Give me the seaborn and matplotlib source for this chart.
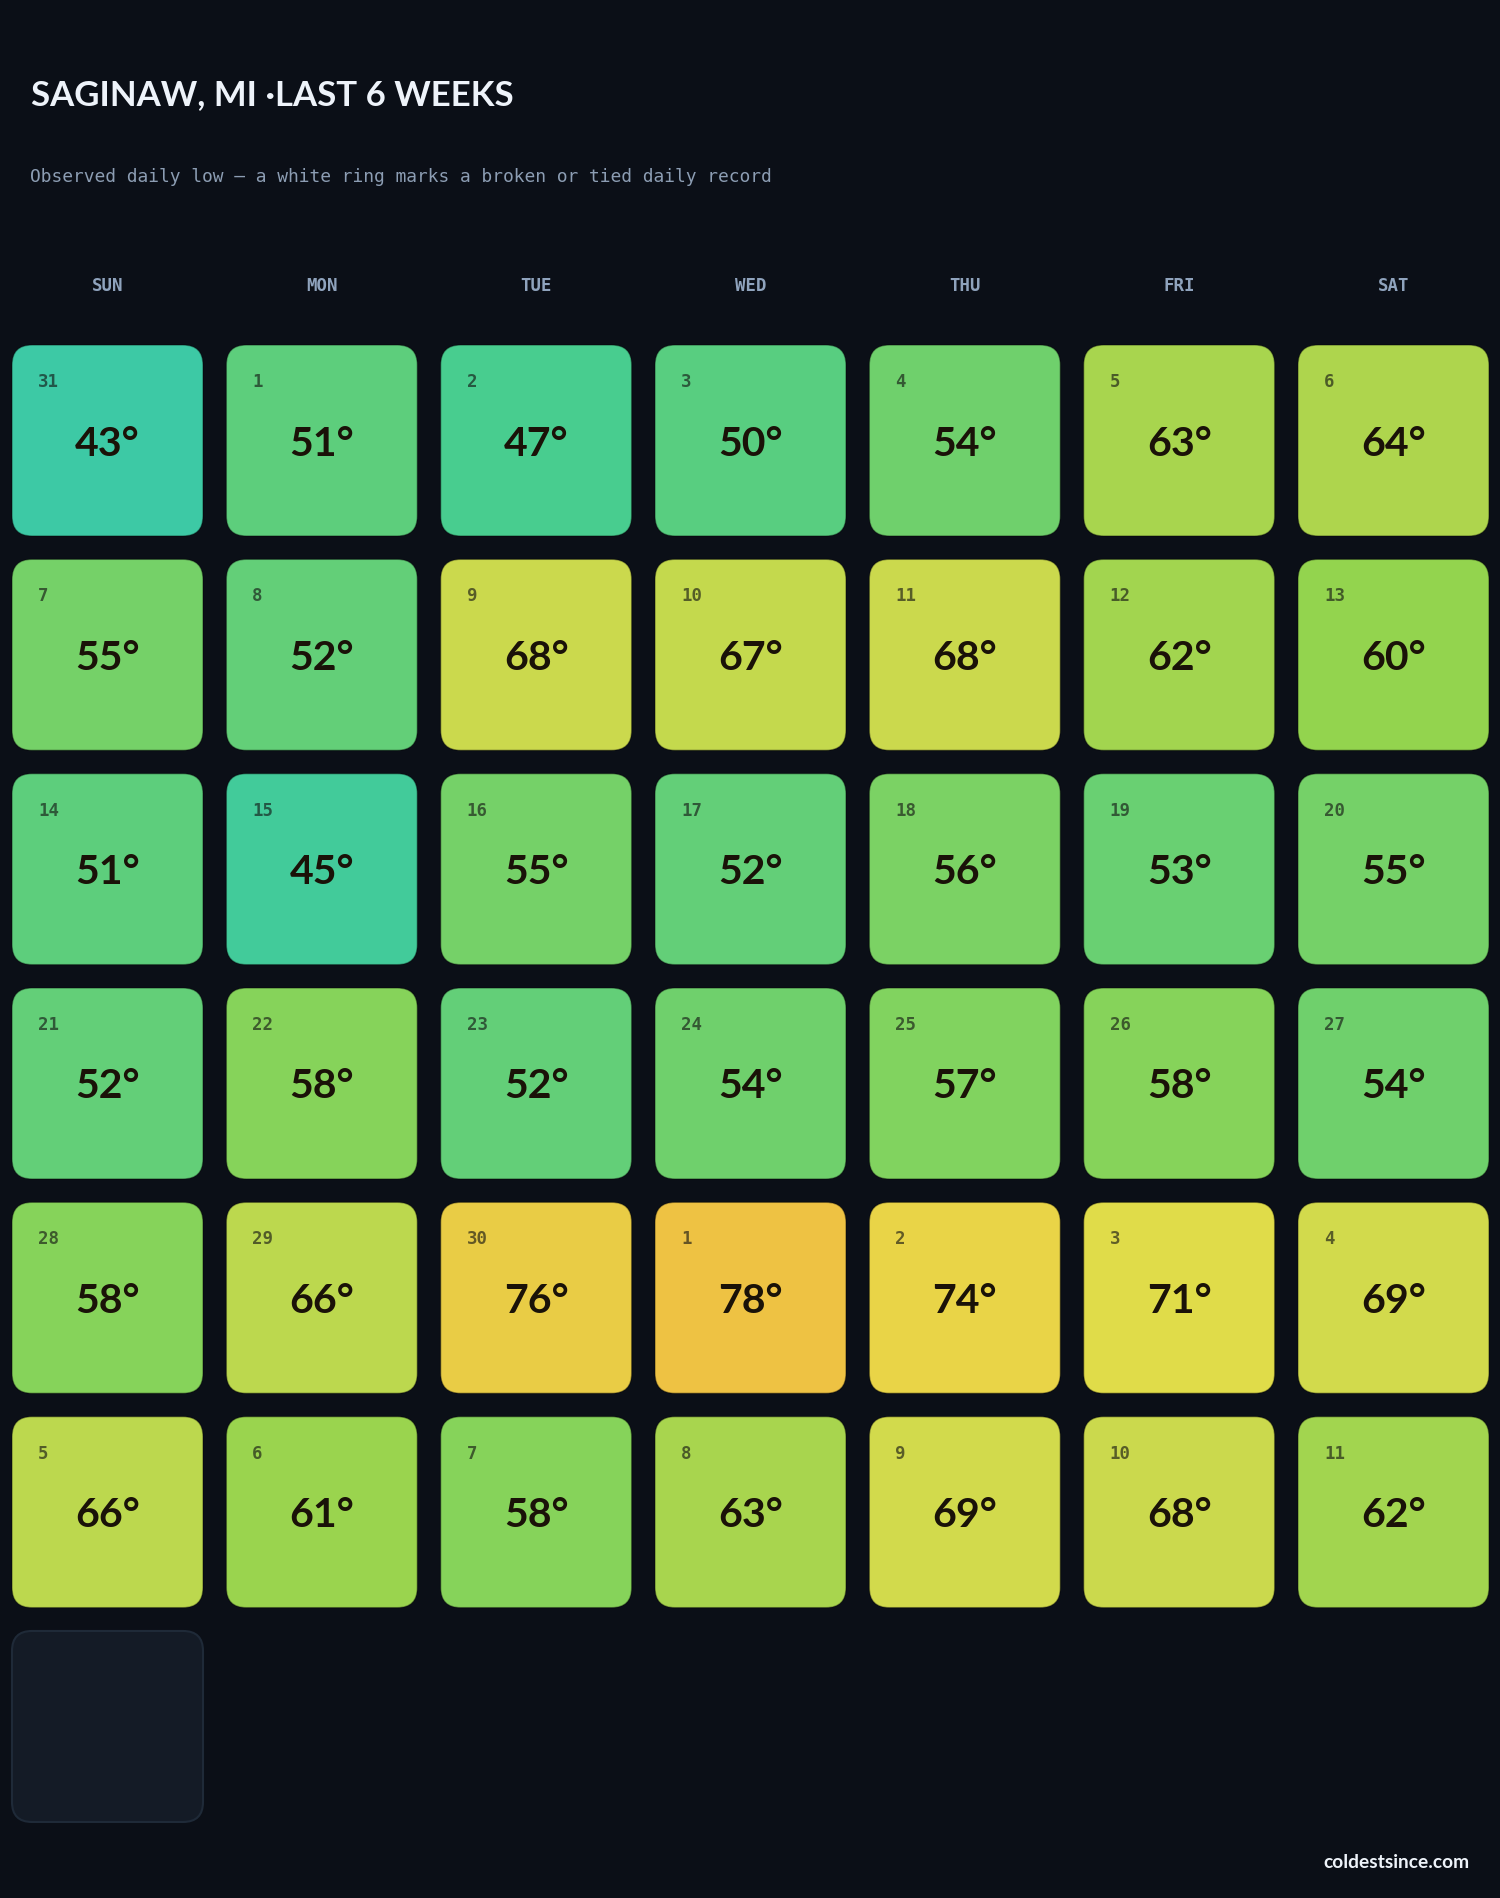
import numpy as np
import pandas as pd
import seaborn as sns
import matplotlib
matplotlib.use("Agg")
import matplotlib.pyplot as plt
from matplotlib.patches import FancyBboxPatch
from matplotlib.colors import LinearSegmentedColormap, Normalize

# ---------------- data ----------------
title = "SAGINAW, MI \u00b7LAST 6 WEEKS"
subtitle = "Observed daily low \u2014 a white ring marks a broken or tied daily record"
weekdays = ["SUN", "MON", "TUE", "WED", "THU", "FRI", "SAT"]
day_numbers = [31, 1, 2, 3, 4, 5, 6,
               7, 8, 9, 10, 11, 12, 13,
               14, 15, 16, 17, 18, 19, 20,
               21, 22, 23, 24, 25, 26, 27,
               28, 29, 30, 1, 2, 3, 4,
               5, 6, 7, 8, 9, 10, 11]
lows = [43, 51, 47, 50, 54, 63, 64,
        55, 52, 68, 67, 68, 62, 60,
        51, 45, 55, 52, 56, 53, 55,
        52, 58, 52, 54, 57, 58, 54,
        58, 66, 76, 78, 74, 71, 69,
        66, 61, 58, 63, 69, 68, 62]
record = [False] * len(lows)
n_empty_cells = 1
footer = "coldestsince.com"

df = pd.DataFrame({"day": day_numbers, "low": lows, "record": record})
df["row"] = np.arange(len(df)) // 7
df["col"] = np.arange(len(df)) % 7

# ---------------- style ----------------
BG = "#0b0f17"
sns.set_theme(style="dark", rc={"figure.facecolor": BG, "axes.facecolor": BG})
plt.rcParams["font.family"] = ["Lato", "DejaVu Sans"]

anchors = [(43, "#3dc9a5"), (47, "#48cd8f"), (50, "#58ce80"), (52, "#63cf78"),
           (54, "#6fd06c"), (56, "#7bd264"), (58, "#86d35a"), (60, "#93d44e"),
           (62, "#a2d54f"), (64, "#aed54d"), (66, "#bcd84e"), (68, "#cbd94d"),
           (70, "#d8da4b"), (71, "#e0dc49"), (74, "#e9d447"), (76, "#e9cc45"),
           (78, "#eec243")]
vmin, vmax = anchors[0][0], anchors[-1][0]
cmap = LinearSegmentedColormap.from_list(
    "lows", [((t - vmin) / (vmax - vmin), c) for t, c in anchors])
norm = Normalize(vmin=vmin, vmax=vmax)

W, H = 1500, 1899
fig = plt.figure(figsize=(W / 100, H / 100), dpi=100)
ax = fig.add_axes([0, 0, 1, 1])
ax.set_xlim(0, W)
ax.set_ylim(H, 0)
ax.axis("off")

x0, y0, pitch, size = 12, 346, 214.33, 191
rad = 20

fig.text(31 / W, 1 - 95 / H, title, color="#eef3fa", fontsize=25,
         fontweight="bold", ha="left", va="center", family=["Lato", "DejaVu Sans"])
fig.text(30 / W, 1 - 177 / H, subtitle, color="#8c9db3", fontsize=12.85,
         ha="left", va="center", family="DejaVu Sans Mono")
for i, wd in enumerate(weekdays):
    ax.text(x0 + i * pitch + size / 2, 286, wd, color="#8fa3bd", fontsize=12.5,
            fontweight="bold", ha="center", va="center", family="DejaVu Sans Mono")

for _, r in df.iterrows():
    x = x0 + r["col"] * pitch
    y = y0 + r["row"] * pitch
    p = FancyBboxPatch((x, y), size, size,
                       boxstyle=f"round,pad=0,rounding_size={rad}",
                       facecolor=cmap(norm(r["low"])),
                       edgecolor=(0, 0, 0, 0.35) if not r["record"] else "white",
                       linewidth=1.0 if not r["record"] else 3)
    ax.add_patch(p)
    ax.text(x + 26, y + 36, f"{int(r['day'])}", color="#111111", alpha=0.62,
            fontsize=12.5, fontweight="bold", ha="left", va="center",
            family="DejaVu Sans Mono")
    ax.text(x + size / 2, y + 98, f"{int(r['low'])}\u00b0", color="#1a1208",
            fontsize=29.5, fontweight="bold", ha="center", va="center",
            family=["Lato", "DejaVu Sans"])

n = len(df)
for k in range(n_empty_cells):
    idx = n + k
    x = x0 + (idx % 7) * pitch
    y = y0 + (idx // 7) * pitch
    ax.add_patch(FancyBboxPatch((x, y), size, size,
                                boxstyle=f"round,pad=0,rounding_size={rad}",
                                facecolor="#141b26", edgecolor="#1f2a38",
                                linewidth=1.5))

fig.text(1470 / W, 1 - 1863 / H, footer, color="#eef3fa", fontsize=13.8,
         fontweight="bold", ha="right", va="center",
         family=["Lato", "DejaVu Sans"])

fig.savefig("out.png", dpi=100, facecolor=BG)
